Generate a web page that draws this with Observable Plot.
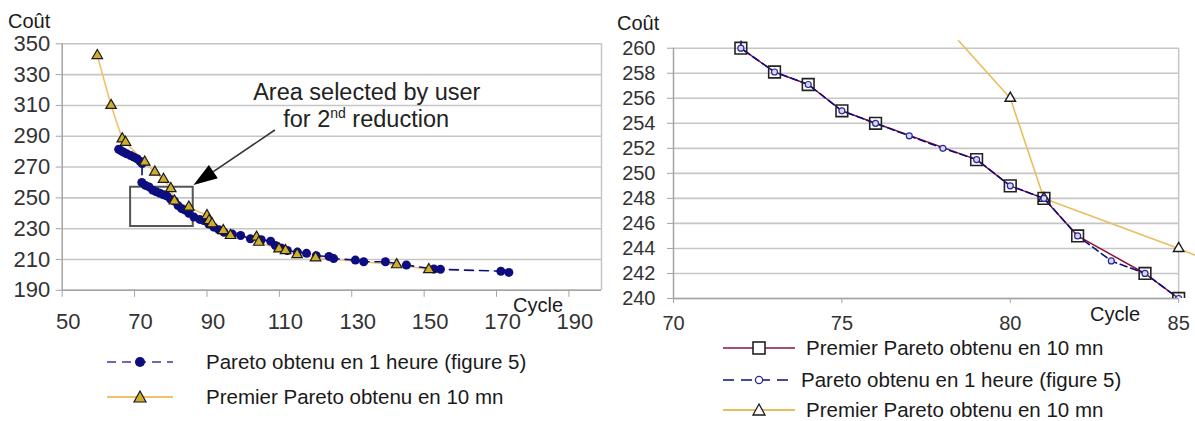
<!DOCTYPE html>
<html lang="fr"><head><meta charset="utf-8">
<script src="https://cdn.jsdelivr.net/npm/d3@7"></script>
<script src="https://cdn.jsdelivr.net/npm/@observablehq/plot@0.6"></script>
<style>
html,body{margin:0;padding:0;background:#fff;}
#wrap{position:relative;width:1195px;height:421px;overflow:hidden;background:#fff;font-family:"Liberation Sans",Arial,sans-serif;color:#1a1a1a;}
.panel{position:absolute;top:0;}
.txt{position:absolute;white-space:nowrap;line-height:20px;font-size:20px;color:#1a1a1a;}
.row{position:absolute;display:flex;align-items:center;height:24px;white-space:nowrap;font-size:20.5px;line-height:22px;color:#1a1a1a;}
.row svg{flex:none;overflow:visible;}
</style></head><body><div id="wrap"></div>
<script>
// ---------- DATA ----------
// Series "Premier Pareto obtenu en 10 mn" (triangles)
const premier10Cycle = [59.7, 63.5, 66.6, 67.5, 72.8, 75.6, 78, 80, 81, 85, 90, 90.6, 91.4, 94.5, 96.5, 103.7, 104.3, 109.9, 111.7, 114.9, 120, 142.4, 151.3];
const premier10Cout  = [342.4, 310, 288.3, 286.1, 273.2, 266.7, 262, 256, 248, 244, 238.5, 235.3, 233.2, 228.8, 225.6, 224.5, 221.2, 216.9, 215.8, 213.2, 211.1, 206.6, 203.5];
// Series "Pareto obtenu en 1 heure (figure 5)" (dots / small circles)
const pareto1hCycle = [65.6, 66.3, 67, 67.8, 68.9, 69.8, 70.7, 71.5, 72.1, 72, 73, 74, 75, 76, 77, 78, 79, 80, 81, 82, 83, 84, 85, 86.4, 88, 89.1, 90.5, 91.9, 93.3, 94.7, 97, 99.3, 102, 105, 107.6, 108.9, 110.5, 112.2, 115, 117.5, 120.2, 123.7, 125, 131, 133.3, 139.3, 145.1, 152.7, 154.5, 171.2, 173.4];
const pareto1hCout  = [281.5, 280.5, 279.6, 278.6, 277.5, 276.4, 275.4, 273.8, 272.3, 260, 258.1, 257.1, 255, 254, 253, 252, 251.1, 249, 248, 245, 243, 242, 240, 237.5, 236, 235.3, 233, 231, 229.3, 227.7, 226.5, 225.6, 223.4, 222.8, 221.9, 219.1, 217.5, 215.8, 214.8, 214, 212.4, 212, 210.6, 209.6, 208.5, 208.5, 206.4, 203.8, 203.6, 202.4, 201.6];
// Series "Premier Pareto obtenu en 10 mn" (squares, zoomed panel)
const premierZoomCycle = [72, 73, 74, 75, 76, 79, 80, 81, 82, 84, 85];
const premierZoomCout  = [260, 258.1, 257.1, 255, 254, 251.1, 249, 248, 245, 242, 240];

// Axes
const leftCycleDomain = [50, 199];
const leftCoutDomain = [190, 350];
const leftCycleTicks = [50, 70, 90, 110, 130, 150, 170, 190];
const leftCoutTicks = [190, 210, 230, 250, 270, 290, 310, 330, 350];
const rightCycleDomain = [70, 85.5];
const rightCoutDomain = [240, 260.6];
const rightCycleTicks = [70, 75, 80, 85];
const rightCoutTicks = [240, 242, 244, 246, 248, 250, 252, 254, 256, 258, 260];

// Annotation (left panel): selected area, arrow, notes
const areaCycle = [68.9, 86.2];
const areaCout = [231.4, 256.9];
const arrowCycle = [108.9, 86.4];
const arrowCout = [293.7, 258.0];
const noteCycle = [102.9, 111.2];
const noteCout = [313.2, 295.7];

// Labels
const yLabel = "Coût";
const xLabel = "Cycle";
const nameP1h = "Pareto obtenu en 1 heure (figure 5)";
const nameP10 = "Premier Pareto obtenu en 10 mn";

// ---------- BUILD ----------
const navy = "#0d0d80";
const gold = "#cfae2e";
const orangeLine = "#f1c16a";
const maroon = "#8a1538";
const grid = "#c6c6c6";
const axisGrey = "#a4a4a4";
const font = "Liberation Sans, Arial, sans-serif";

const yellow = premier10Cycle.map((c, i) => ({cycle: c, cout: premier10Cout[i]}));
const blue = pareto1hCycle.map((c, i) => ({cycle: c, cout: pareto1hCout[i]}));
const squares = premierZoomCycle.map((c, i) => ({cycle: c, cout: premierZoomCout[i]}));

const ns = "http://www.w3.org/2000/svg";
function annotationMark(index, scales) {
  const {x, y} = scales;
  const g = document.createElementNS(ns, "g");
  g.setAttribute("text-anchor", "start");
  const sx = x(arrowCycle[0]), sy = y(arrowCout[0]);
  const ex = x(arrowCycle[1]), ey = y(arrowCout[1]);
  const ang = Math.atan2(ey - sy, ex - sx);
  const L = 24, W = 8;
  const bx = ex - L * Math.cos(ang), by = ey - L * Math.sin(ang);
  const line = document.createElementNS(ns, "line");
  line.setAttribute("x1", sx); line.setAttribute("y1", sy);
  line.setAttribute("x2", bx); line.setAttribute("y2", by);
  line.setAttribute("stroke", "#333"); line.setAttribute("stroke-width", 1.6);
  g.appendChild(line);
  const head = document.createElementNS(ns, "polygon");
  const px = -Math.sin(ang), py = Math.cos(ang);
  head.setAttribute("points", `${ex},${ey} ${bx + W * px},${by + W * py} ${bx - W * px},${by - W * py}`);
  head.setAttribute("fill", "#000");
  g.appendChild(head);
  const t1 = document.createElementNS(ns, "text");
  t1.setAttribute("x", x(noteCycle[0])); t1.setAttribute("y", y(noteCout[0]));
  t1.setAttribute("font-size", 23.5); t1.setAttribute("fill", "#222");
  t1.setAttribute("text-anchor", "start");
  t1.textContent = "Area selected by user";
  g.appendChild(t1);
  const t2 = document.createElementNS(ns, "text");
  t2.setAttribute("x", x(noteCycle[1])); t2.setAttribute("y", y(noteCout[1]));
  t2.setAttribute("font-size", 23.5); t2.setAttribute("fill", "#222");
  t2.setAttribute("text-anchor", "start");
  const a = document.createElementNS(ns, "tspan"); a.textContent = "for 2";
  const b = document.createElementNS(ns, "tspan"); b.textContent = "nd";
  b.setAttribute("font-size", 14); b.setAttribute("dy", -9);
  const c = document.createElementNS(ns, "tspan"); c.textContent = " reduction";
  c.setAttribute("dy", 9);
  t2.appendChild(a); t2.appendChild(b); t2.appendChild(c);
  g.appendChild(t2);
  return g;
}

const left = Plot.plot({
  width: 605, height: 340,
  marginLeft: 61.7, marginRight: 4, marginTop: 43.3, marginBottom: 50.2,
  x: {domain: leftCycleDomain},
  y: {domain: leftCoutDomain},
  style: {fontFamily: font, background: "transparent", overflow: "visible"},
  marks: [
    Plot.ruleY(leftCoutTicks, {stroke: grid, strokeWidth: 1.6}),
    Plot.ruleX([leftCycleDomain[1]], {stroke: grid, strokeWidth: 1.5}),
    Plot.ruleX([leftCycleDomain[0]], {stroke: axisGrey, strokeWidth: 1.5}),
    Plot.ruleY([leftCoutDomain[0]], {stroke: axisGrey, strokeWidth: 1.5}),
    Plot.axisY({ticks: leftCoutTicks, tickSize: 6, tickPadding: 6, fontSize: 22, color: "#333", stroke: axisGrey, label: null}),
    Plot.axisX({ticks: leftCycleTicks, tickSize: 7, tickFormat: () => "", stroke: axisGrey, label: null}),
    Plot.axisX({ticks: leftCycleTicks, tickSize: 0, tickPadding: 23, dx: 6, fontSize: 22, color: "#333", label: null}),
    Plot.rect([0], {x1: () => areaCycle[0], x2: () => areaCycle[1], y1: () => areaCout[0], y2: () => areaCout[1], fill: "none", stroke: "#555", strokeWidth: 2}),
    Plot.line(yellow, {x: "cycle", y: "cout", stroke: orangeLine, strokeWidth: 1.6}),
    Plot.line(blue, {x: "cycle", y: "cout", stroke: navy, strokeWidth: 1.6, strokeDasharray: "9,6"}),
    Plot.dot(blue, {x: "cycle", y: "cout", r: 4.5, fill: navy, stroke: "none"}),
    Plot.dot(yellow, {x: "cycle", y: "cout", symbol: "triangle", r: 3.9, fill: gold, stroke: "#1a1a1a", strokeWidth: 1.2}),
    annotationMark
  ]
});

const right = Plot.plot({
  width: 595, height: 340,
  marginLeft: 73, marginRight: 0, marginTop: 40.2, marginBottom: 42,
  x: {domain: rightCycleDomain},
  y: {domain: rightCoutDomain},
  style: {fontFamily: font, background: "transparent", overflow: "visible"},
  marks: [
    Plot.ruleY(rightCoutTicks, {x1: rightCycleTicks[0], x2: rightCycleTicks[3], stroke: grid, strokeWidth: 1.6}),
    Plot.ruleX([rightCycleTicks[3]], {y1: rightCoutTicks[0], y2: rightCoutTicks[10], stroke: grid, strokeWidth: 1.5}),
    Plot.ruleX([rightCycleTicks[0]], {y1: rightCoutTicks[0], y2: rightCoutTicks[10], stroke: axisGrey, strokeWidth: 1.5}),
    Plot.ruleY([rightCoutTicks[0]], {x1: rightCycleTicks[0], x2: rightCycleTicks[3], stroke: axisGrey, strokeWidth: 1.5}),
    Plot.axisY({ticks: rightCoutTicks, tickSize: 6, tickPadding: 12, fontSize: 20, color: "#333", stroke: axisGrey, label: null}),
    Plot.axisX({ticks: rightCycleTicks, tickSize: 5, tickPadding: 12, fontSize: 20, color: "#333", stroke: axisGrey, label: null}),
    Plot.line(yellow, {x: "cycle", y: "cout", stroke: "#e9be5c", strokeWidth: 1.6, clip: true}),
    Plot.dot(yellow, {x: "cycle", y: "cout", symbol: "triangle", r: 3.9, fill: "#fff", stroke: "#1a1a1a", strokeWidth: 1.4, clip: true}),
    Plot.line(squares, {x: "cycle", y: "cout", stroke: maroon, strokeWidth: 1.5, clip: true}),
    Plot.line(blue, {x: "cycle", y: "cout", stroke: navy, strokeWidth: 1.6, strokeDasharray: "7,4", clip: true}),
    Plot.dot(squares, {x: "cycle", y: "cout", symbol: "square", r: 6.6, fill: "none", stroke: "#222", strokeWidth: 1.6, clip: true}),
    Plot.dot(blue, {x: "cycle", y: "cout", r: 3, fill: "#d8d8f0", stroke: "#2a2a9a", strokeWidth: 1.2, clip: true})
  ]
});

const wrap = document.getElementById("wrap");
const lp = document.createElement("div"); lp.className = "panel"; lp.style.left = "0px"; lp.appendChild(left);
const rp = document.createElement("div"); rp.className = "panel"; rp.style.left = "600px"; rp.appendChild(right);
wrap.appendChild(lp); wrap.appendChild(rp);

function addText(txt, left, top) {
  const d = document.createElement("div");
  d.className = "txt"; d.textContent = txt;
  d.style.left = left + "px"; d.style.top = top + "px";
  wrap.appendChild(d);
}
addText(yLabel, 8, 11);
addText(yLabel, 617, 13);
addText(xLabel, 513, 295);
addText(xLabel, 1090, 304);

function sample(kind, w) {
  const s = document.createElementNS(ns, "svg");
  s.setAttribute("width", w); s.setAttribute("height", 24);
  const cx = w / 2, cy = 12;
  let html = "";
  if (kind === "p1h-left") {
    html = `<line x1="0" y1="${cy}" x2="${w}" y2="${cy}" stroke="#3a3aa0" stroke-width="1.6" stroke-dasharray="9,6"/><circle cx="${cx}" cy="${cy}" r="5" fill="${navy}"/>`;
  } else if (kind === "p10-left") {
    html = `<line x1="0" y1="${cy}" x2="${w}" y2="${cy}" stroke="${orangeLine}" stroke-width="1.8"/><path d="M${cx},${cy-6} L${cx+6},${cy+5} L${cx-6},${cy+5} Z" fill="${gold}" stroke="#1a1a1a" stroke-width="1.2"/>`;
  } else if (kind === "sq-right") {
    html = `<line x1="0" y1="${cy}" x2="${w}" y2="${cy}" stroke="${maroon}" stroke-width="1.6"/><rect x="${cx-6}" y="${cy-6}" width="12" height="12" fill="#fff" stroke="#222" stroke-width="1.6"/>`;
  } else if (kind === "p1h-right") {
    html = `<line x1="0" y1="${cy}" x2="${w}" y2="${cy}" stroke="${navy}" stroke-width="1.6" stroke-dasharray="11,7"/><circle cx="${cx}" cy="${cy}" r="3.6" fill="#fff" stroke="#2a2a9a" stroke-width="1.3"/>`;
  } else {
    html = `<line x1="0" y1="${cy}" x2="${w}" y2="${cy}" stroke="#e9be5c" stroke-width="1.8"/><path d="M${cx},${cy-6} L${cx+6},${cy+5} L${cx-6},${cy+5} Z" fill="#fff" stroke="#1a1a1a" stroke-width="1.3"/>`;
  }
  s.innerHTML = html;
  return s;
}
function addRow(kind, name, sampleLeft, sampleW, textLeft, centerY) {
  const d = document.createElement("div");
  d.className = "row";
  d.style.left = sampleLeft + "px"; d.style.top = (centerY - 12) + "px";
  d.appendChild(sample(kind, sampleW));
  const sp = document.createElement("span");
  sp.textContent = name;
  sp.style.marginLeft = (textLeft - sampleLeft - sampleW) + "px";
  d.appendChild(sp);
  wrap.appendChild(d);
}
addRow("p1h-left", nameP1h, 107, 66, 206, 362);
addRow("p10-left", nameP10, 107, 66, 206, 397);
addRow("sq-right", nameP10, 723, 72, 806, 348);
addRow("p1h-right", nameP1h, 723, 72, 801, 380);
addRow("p10-right", nameP10, 723, 72, 806, 410);
</script></body></html>
